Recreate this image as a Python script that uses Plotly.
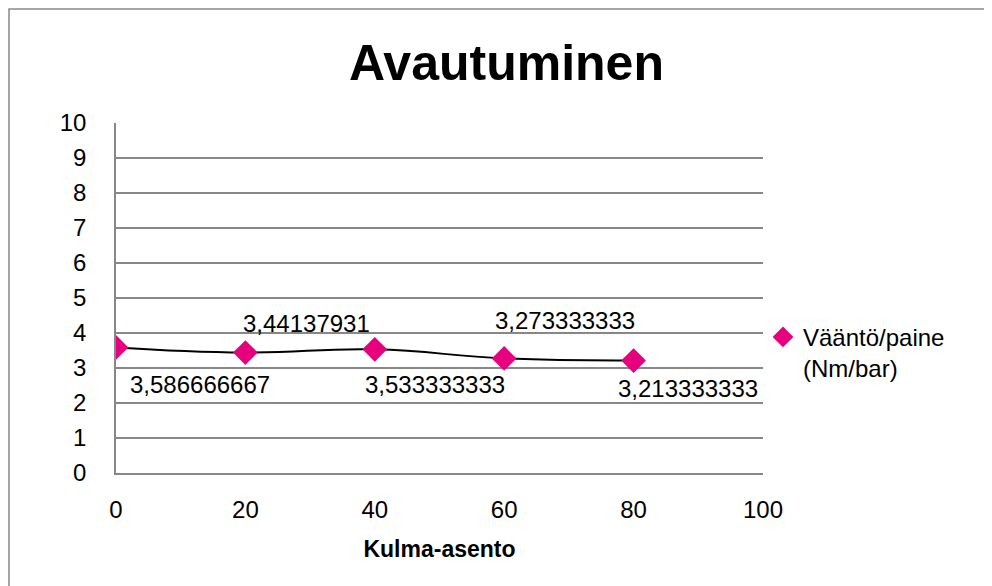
import plotly.graph_objects as go

angles = [0, 20, 40, 60, 80]
ratio = [3.586666667, 3.44137931, 3.533333333, 3.273333333, 3.213333333]
series_name = "Vääntö/paine<br>(Nm/bar)"
title_text = "Avautuminen"
x_title = "Kulma-asento"
x_ticks = [0, 20, 40, 60, 80, 100]
y_ticks = list(range(0, 11))
# label placement (above/below) and pixel offsets
label_dx = [84, 61, 60, 61, 54]
label_dy = [-37, 29, -35, 38, -28]

labels = [f"{v:.10g}".replace(".", ",") for v in ratio]

FONT = "Liberation Sans, Arial, sans-serif"
GRID = "#878787"

# page body has ~8px offset; figure is drawn 8px smaller and shifted
W, H = 984, 578
L, T = 108, 115
PW, PH = 647, 350

fig = go.Figure()
fig.add_trace(go.Scatter(
    x=angles, y=ratio, mode="lines", line=dict(color="black", width=2, shape="spline", smoothing=1.3),
    showlegend=False, hoverinfo="skip"))
fig.add_trace(go.Scatter(
    x=angles, y=ratio, mode="markers", name=series_name,
    marker=dict(symbol="diamond", size=19, color="#E6007E")))

for xv, yv, t, dx, dy in zip(angles, ratio, labels, label_dx, label_dy):
    fig.add_annotation(x=xv, y=yv, text=t, showarrow=False, xshift=dx, yshift=dy,
                       font=dict(family=FONT, size=24, color="black"))

fig.update_layout(
    width=W, height=H, autosize=False,
    margin=dict(l=L, r=W - L - PW, t=T, b=H - T - PH),
    paper_bgcolor="white", plot_bgcolor="white",
    font=dict(family=FONT, size=24, color="black"),
    title=dict(text=f"<b>{title_text}</b>", x=((347 + 666) / 2 - 8) / W, xanchor="center",
               y=1 - (62 - 8) / H, yanchor="middle", yref="container",
               font=dict(family=FONT, size=50, color="black")),
    legend=dict(x=1.0, y=0.452, xanchor="left", yanchor="top", valign="top",
                font=dict(family=FONT, size=24), bgcolor="rgba(0,0,0,0)",
                itemwidth=30, tracegroupgap=0),
    showlegend=True,
    shapes=[dict(type="rect", xref="paper", yref="paper",
                 x0=-(L - 1) / PW, x1=2.0,
                 y0=-1.0, y1=(473 - 9) / PH,
                 line=dict(color="#888888", width=1.5), layer="below")],
)
fig.update_xaxes(range=[0, 100], tickvals=x_ticks, showgrid=False, zeroline=False,
                 showline=True, linecolor=GRID, linewidth=1.5, ticks="",
                 ticklabelstandoff=14, tickfont=dict(size=24),
                 title=dict(text=f"<b>{x_title}</b>", standoff=19, font=dict(size=23)))
fig.update_yaxes(range=[0, 10], tickvals=y_ticks, showgrid=True, gridcolor=GRID, gridwidth=1.5,
                 zeroline=False, showline=True, linecolor=GRID, linewidth=1.5, ticks="",
                 ticklabelstandoff=23, tickfont=dict(size=24))

fig.write_html("out.html")
